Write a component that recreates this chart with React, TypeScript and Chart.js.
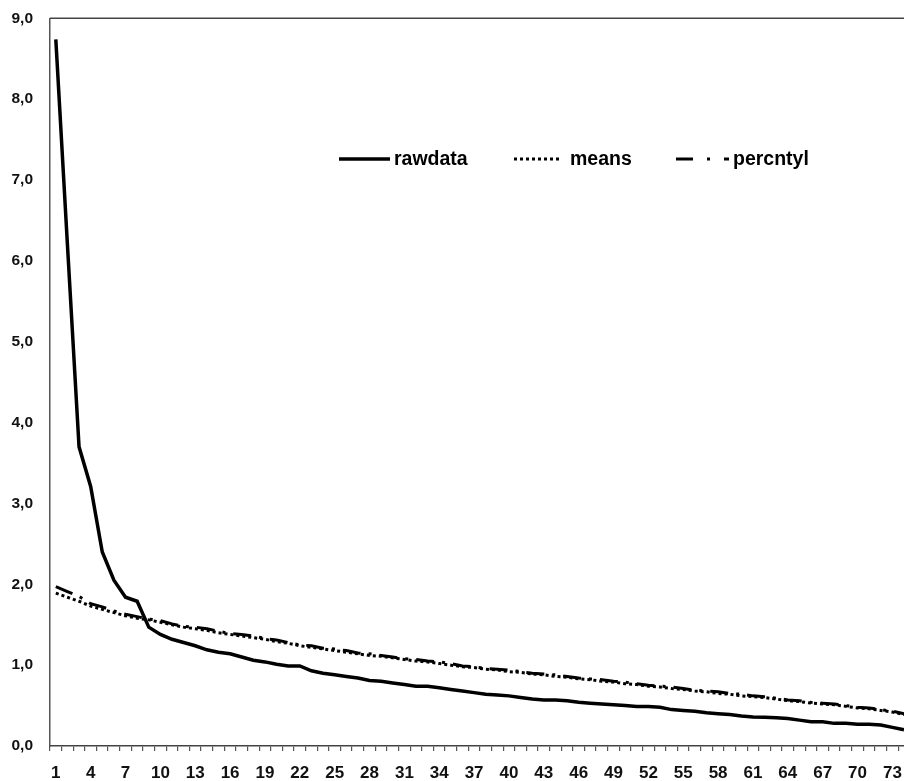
import React, { useEffect, useRef } from "react";
import { Chart, registerables } from "chart.js";

Chart.register(...registerables);

const categories: string[] = Array.from({ length: 74 }, (_, i) => String(i + 1));

const rawdata: number[] = [
  8.74, 6.2, 3.7, 3.21, 2.4, 2.05, 1.84, 1.79, 1.47, 1.38,
  1.32, 1.28, 1.24, 1.19, 1.16, 1.14, 1.1, 1.06, 1.04, 1.01,
  0.99, 0.99, 0.93, 0.9, 0.88, 0.86, 0.84, 0.81, 0.8, 0.78,
  0.76, 0.74, 0.74, 0.72, 0.7, 0.68, 0.66, 0.64, 0.63, 0.62,
  0.6, 0.58, 0.57, 0.57, 0.56, 0.54, 0.53, 0.52, 0.51, 0.5,
  0.49, 0.49, 0.48, 0.45, 0.44, 0.43, 0.41, 0.4, 0.39, 0.37,
  0.36, 0.355, 0.35, 0.34, 0.32, 0.3, 0.3, 0.28, 0.28, 0.27,
  0.27, 0.26, 0.23, 0.2,
];

const means: number[] = [
  1.89, 1.84, 1.79, 1.73, 1.69, 1.65, 1.61, 1.58, 1.56, 1.53,
  1.5, 1.47, 1.45, 1.43, 1.4, 1.38, 1.36, 1.34, 1.32, 1.29,
  1.27, 1.24, 1.22, 1.2, 1.18, 1.16, 1.14, 1.12, 1.11, 1.09,
  1.07, 1.05, 1.04, 1.02, 1.0, 0.98, 0.97, 0.95, 0.94, 0.92,
  0.91, 0.89, 0.88, 0.86, 0.85, 0.83, 0.82, 0.8, 0.79, 0.77,
  0.76, 0.74, 0.73, 0.71, 0.7, 0.68, 0.67, 0.65, 0.64, 0.62,
  0.61, 0.6, 0.58, 0.56, 0.55, 0.53, 0.52, 0.51, 0.49, 0.47,
  0.46, 0.44, 0.42, 0.39,
];

const percntyl: number[] = [
  1.97, 1.91, 1.85, 1.76, 1.72, 1.67, 1.63, 1.6, 1.57, 1.55,
  1.51, 1.48, 1.47, 1.45, 1.42, 1.39, 1.38, 1.36, 1.33, 1.31,
  1.28, 1.25, 1.24, 1.21, 1.2, 1.18, 1.15, 1.14, 1.12, 1.1,
  1.08, 1.07, 1.05, 1.04, 1.02, 0.99, 0.98, 0.96, 0.95, 0.94,
  0.92, 0.9, 0.89, 0.88, 0.86, 0.84, 0.83, 0.82, 0.8, 0.79,
  0.77, 0.75, 0.74, 0.73, 0.71, 0.69, 0.68, 0.67, 0.65, 0.64,
  0.62, 0.61, 0.59, 0.57, 0.56, 0.54, 0.53, 0.52, 0.5, 0.48,
  0.47, 0.45, 0.43, 0.4,
];

const seriesNames = ["rawdata", "means", "percntyl"];
const FONT = "'Liberation Sans', Arial, sans-serif";

const frameAndLegend = {
  id: "frameAndLegend",
  afterDatasetsDraw(chart: any) {
    const { ctx, chartArea } = chart;
    ctx.save();
    // top frame line
    ctx.strokeStyle = "#444";
    ctx.lineWidth = 1.5;
    ctx.beginPath();
    ctx.moveTo(chartArea.left, chartArea.top);
    ctx.lineTo(chartArea.right, chartArea.top);
    ctx.stroke();

    // legend
    const y = 159;
    const items = [
      { x0: 339, x1: 390, tx: 394 },
      { x0: 514, x1: 561, tx: 570 },
      { x0: 676, x1: 729, tx: 733 },
    ];
    ctx.font = `bold 19.5px ${FONT}`;
    ctx.textBaseline = "middle";
    ctx.fillStyle = "#000";
    chart.data.datasets.forEach((ds: any, i: number) => {
      const it = items[i];
      ctx.strokeStyle = "#000";
      ctx.lineWidth = ds.borderWidth;
      ctx.setLineDash(i === 2 ? [17, 14, 3, 14] : ds.borderDash || []);
      ctx.lineCap = "butt";
      ctx.beginPath();
      ctx.moveTo(it.x0, y);
      ctx.lineTo(it.x1, y);
      ctx.stroke();
      ctx.setLineDash([]);
      ctx.fillText(ds.label, it.tx, y + 1);
    });
    ctx.restore();
  },
};

export default function App() {
  const ref = useRef<HTMLCanvasElement | null>(null);

  useEffect(() => {
    if (!ref.current) return;
    Chart.defaults.font.family = FONT;
    const chart = new Chart(ref.current, {
      type: "line",
      data: {
        labels: categories,
        datasets: [
          {
            label: seriesNames[0],
            data: rawdata,
            borderColor: "#000",
            borderWidth: 3.5,
            pointRadius: 0,
            tension: 0,
            fill: false,
          },
          {
            label: seriesNames[1],
            data: means,
            borderColor: "#000",
            borderWidth: 3,
            borderDash: [3, 3],
            pointRadius: 0,
            tension: 0,
            fill: false,
          },
          {
            label: seriesNames[2],
            data: percntyl,
            borderColor: "#000",
            borderWidth: 3,
            borderDash: [18, 8, 3, 8],
            pointRadius: 0,
            tension: 0,
            fill: false,
          },
        ],
      },
      options: {
        responsive: false,
        animation: false,
        devicePixelRatio: 1,
        layout: { padding: { top: 12, left: 0, right: 0, bottom: 0 } },
        plugins: {
          legend: { display: false },
          tooltip: { enabled: false },
        },
        scales: {
          x: {
            type: "category",
            offset: true,
            grid: {
              display: true,
              drawOnChartArea: false,
              drawTicks: true,
              tickLength: 5,
              offset: true,
              color: "#555",
              lineWidth: 1.2,
            },
            border: { display: true, color: "#444", width: 1.5 },
            ticks: {
              autoSkip: false,
              maxRotation: 0,
              minRotation: 0,
              padding: 12,
              color: "#111",
              font: { size: 17, weight: "bold", family: FONT },
              callback: function (this: any, val: any, index: number) {
                return index % 3 === 0 ? this.getLabelForValue(val) : "";
              },
            },
            afterFit: (scale: any) => {
              scale.height = 35;
            },
          },
          y: {
            min: 0,
            max: 9,
            grid: { display: false },
            border: { display: true, color: "#555", width: 1.5 },
            ticks: {
              stepSize: 1,
              padding: 9,
              color: "#111",
              font: { size: 15.5, weight: "bold", family: FONT },
              callback: (v: any) => Number(v).toFixed(1).replace(".", ","),
            },
            afterFit: (scale: any) => {
              scale.width = 50;
            },
          },
        },
      },
      plugins: [frameAndLegend],
    });
    return () => chart.destroy();
  }, []);

  return (
    <div
      style={{
        position: "fixed",
        left: 0,
        top: 0,
        width: 904,
        height: 781,
        overflow: "hidden",
        background: "#fff",
      }}
    >
      <canvas ref={ref} width={916} height={781} style={{ display: "block", width: 916, height: 781 }} />
    </div>
  );
}
